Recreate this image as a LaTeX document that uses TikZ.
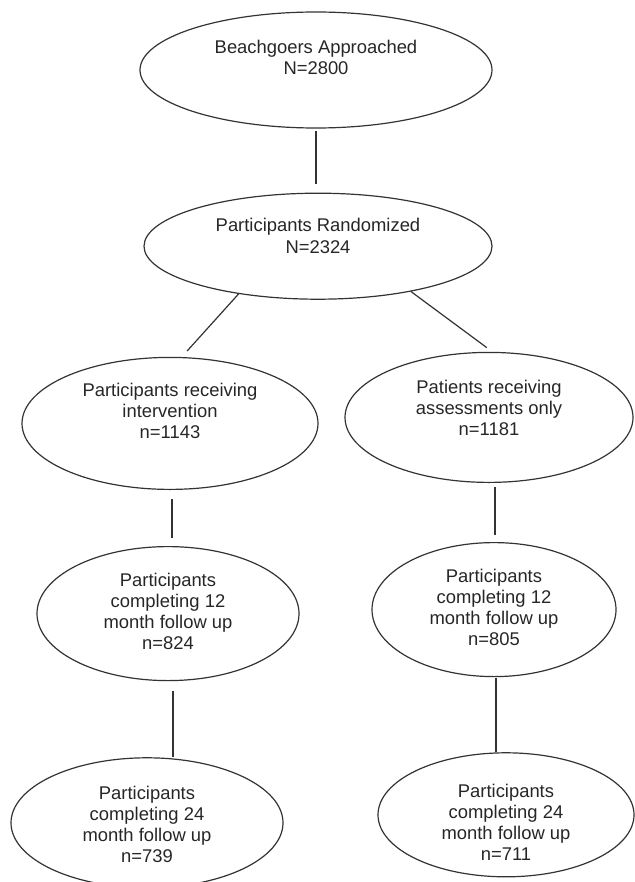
\documentclass[tikz,border=0pt]{standalone}
\usepackage{fontspec}
\setmainfont{Liberation Sans}
\usepackage{tikz}
\usetikzlibrary{positioning,shapes.geometric}
\newcommand{\ovaltext}[2]{\raisebox{#1}[\height][\depth]{\begin{tabular}{@{}c@{}}#2\end{tabular}}}

\begin{document}
\begin{tikzpicture}[oval/.style={ellipse, draw=black!80, line width=.6pt, inner sep=0pt, text=black!85, font=\fontsize{9.2pt}{10.6pt}\selectfont},
                    link/.style={draw=black!80, line width=.6pt}]

\useasboundingbox (0,0) rectangle (317.5pt,-441pt);
\node(BEACH)   [oval, minimum width=176pt, minimum height=58pt] at (158pt,-35pt)  {\ovaltext{5pt}{Beachgoers Approached\\N=2800}};
\node(RAND)    [oval, minimum width=174pt, minimum height=53pt, below=32pt of BEACH, xshift=1pt]      {\ovaltext{4pt}{Participants Randomized\\N=2324}};
\node(INTV)    [oval, minimum width=148pt, minimum height=66pt, below=28.5pt of RAND, xshift=-74pt]  {\ovaltext{5pt}{Participants receiving\\intervention\\n=1143}};
\node(ASSESS)  [oval, minimum width=144pt, minimum height=65pt, below=26pt of RAND, xshift=85.5pt]   {\ovaltext{3.5pt}{Patients receiving\\assessments only\\n=1181}};
\node(FU12I)   [oval, minimum width=131pt, minimum height=67pt, below=28pt of INTV, xshift=-1pt]     {\ovaltext{0pt}{Participants\\completing 12\\month follow up\\n=824}};
\node(FU12A)   [oval, minimum width=122pt, minimum height=67pt, below=29.5pt of ASSESS, xshift=2.5pt] {\ovaltext{0pt}{Participants\\completing 12\\month follow up\\n=805}};
\node(FU24I)   [oval, minimum width=136pt, minimum height=65pt, below=38pt of FU12I, xshift=-10.5pt] {\ovaltext{-2pt}{Participants\\completing 24\\month follow up\\n=739}};
\node(FU24A)   [oval, minimum width=128pt, minimum height=62pt, below=37.5pt of FU12A, xshift=6pt]  {\ovaltext{-5pt}{Participants\\completing 24\\month follow up\\n=711}};
\draw[link] ([yshift=-1pt]BEACH.south) -- ([xshift=-1pt,yshift=4.5pt]RAND.north);
\draw[link, shorten >=4pt] (RAND.211) -- (INTV.80);
\draw[link, shorten >=3.5pt] (RAND.334) -- (ASSESS.87);
\draw[link] ([xshift=1pt,yshift=-4.5pt]INTV.south) -- ([xshift=2pt,yshift=4pt]FU12I.north);
\draw[link] ([xshift=3pt,yshift=-2pt]ASSESS.south) -- ([xshift=.5pt,yshift=3.5pt]FU12A.north);
\draw[link] ([xshift=2.5pt,yshift=-5pt]FU12I.south) -- ([xshift=13pt]FU24I.north);
\draw[link] ([xshift=1pt,yshift=-.5pt]FU12A.south) -- ([xshift=-5pt]FU24A.north);
\end{tikzpicture}
\end{document}
